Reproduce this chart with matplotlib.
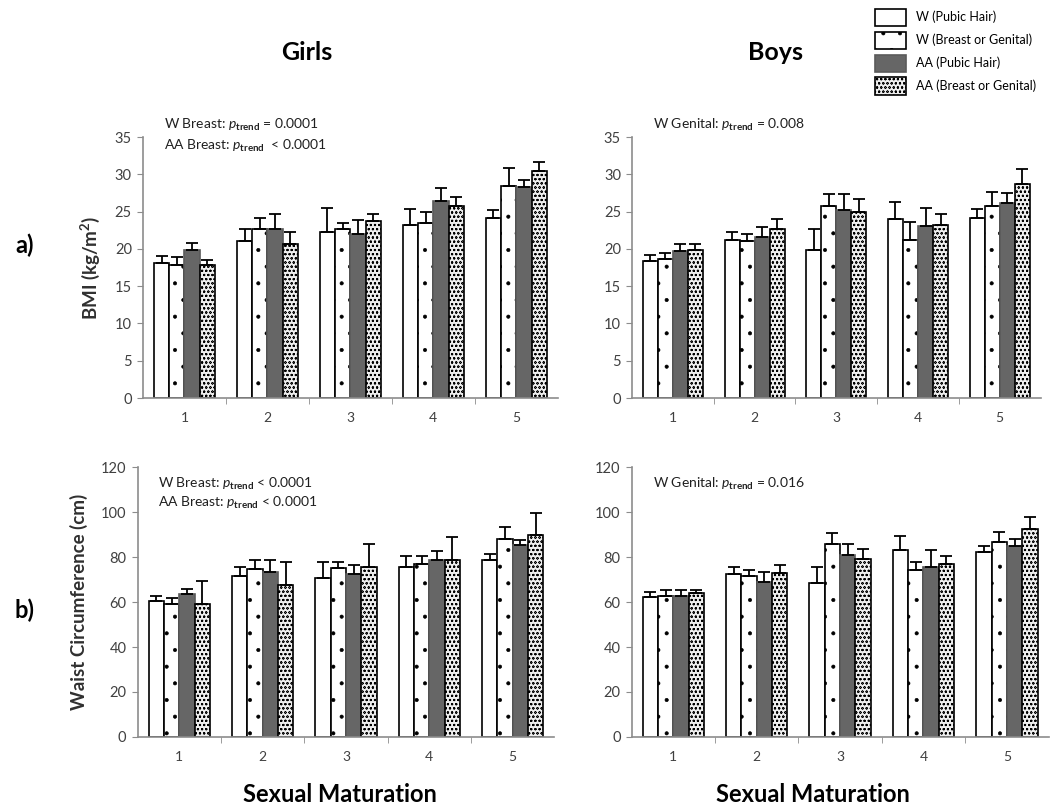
import numpy as np
import matplotlib
matplotlib.use("Agg")
import matplotlib.pyplot as plt
from matplotlib.patches import Patch

plt.rcParams["font.family"] = ["Lato", "DejaVu Sans"]
plt.rcParams["mathtext.fontset"] = "custom"
plt.rcParams["mathtext.rm"] = "Lato"
plt.rcParams["mathtext.it"] = "Lato:italic"
plt.rcParams["mathtext.bf"] = "Lato:bold"
plt.rcParams["hatch.linewidth"] = 0.45

# Data: means and upper standard errors
stages = ["1", "2", "3", "4", "5"]
series = ["W (Pubic Hair)", "W (Breast or Genital)", "AA (Pubic Hair)", "AA (Breast or Genital)"]

girls_bmi = [
    [18.05, 21.0, 22.2, 23.2, 24.2],
    [17.9, 22.6, 22.6, 23.5, 28.5],
    [19.8, 22.7, 22.0, 26.4, 28.3],
    [17.8, 20.7, 23.7, 25.8, 30.5],
]
girls_bmi_se = [
    [1.05, 1.6, 3.3, 2.1, 1.0],
    [1.0, 1.5, 0.9, 1.4, 2.3],
    [1.0, 2.0, 1.9, 1.7, 1.0],
    [0.7, 1.5, 1.0, 1.2, 1.2],
]
boys_bmi = [
    [18.4, 21.2, 19.9, 24.0, 24.2],
    [18.7, 21.0, 25.7, 21.2, 25.8],
    [19.7, 21.6, 25.2, 23.1, 26.2],
    [19.8, 22.7, 24.9, 23.2, 28.7],
]
boys_bmi_se = [
    [0.8, 1.0, 2.8, 2.3, 1.2],
    [0.7, 1.0, 1.6, 2.4, 1.8],
    [0.9, 1.4, 2.1, 2.4, 1.3],
    [0.8, 1.3, 1.8, 1.5, 2.0],
]
girls_waist = [
    [60.3, 71.7, 70.7, 75.7, 78.7],
    [59.1, 74.7, 75.1, 76.8, 88.2],
    [63.4, 73.3, 72.3, 78.7, 85.2],
    [59.1, 67.7, 75.7, 78.7, 89.6],
]
girls_waist_se = [
    [2.4, 4.0, 6.9, 4.6, 2.6],
    [2.5, 4.0, 2.5, 3.5, 5.1],
    [2.2, 5.4, 4.0, 4.0, 2.5],
    [10.2, 10.1, 10.1, 10.2, 9.9],
]
boys_waist = [
    [62.4, 72.4, 68.6, 83.2, 82.1],
    [62.8, 71.4, 85.6, 74.4, 86.6],
    [62.9, 68.9, 80.7, 75.4, 84.8],
    [64.0, 73.1, 79.0, 76.7, 92.3],
]
boys_waist_se = [
    [2.2, 3.0, 6.8, 6.0, 3.0],
    [2.5, 3.0, 5.0, 3.6, 4.7],
    [2.4, 4.3, 5.0, 7.6, 3.2],
    [1.3, 3.4, 4.7, 3.7, 5.5],
]

notes_girls_bmi = [r"W Breast: $p_{\mathbf{trend}}$ = 0.0001", r"AA Breast: $p_{\mathbf{trend}}$  < 0.0001"]
notes_boys_bmi = [r"W Genital: $p_{\mathbf{trend}}$ = 0.008"]
notes_girls_waist = [r"W Breast: $p_{\mathbf{trend}}$ < 0.0001", r"AA Breast: $p_{\mathbf{trend}}$ < 0.0001"]
notes_boys_waist = [r"W Genital: $p_{\mathbf{trend}}$ = 0.016"]

# bar styles: (facecolor, edgecolor, hatch)
styles = [
    ("white", "black", None),
    ("white", "black", "."),
    ("#666666", "#5a5a5a", None),
    ("#eeeeee", "black", "oooo"),
]

AXIS_GRAY = "#8c8c8c"
TEXT_GRAY = "#404040"

fig = plt.figure(figsize=(10.5, 8.08), dpi=100)


def draw_panel(rect, means, ses, ymax, ystep, notes, note_y, ylabel=None):
    ax = fig.add_axes(rect)
    x = np.arange(len(stages))
    w = 0.184
    for i in range(4):
        fc, ec, hatch = styles[i]
        pos = x + (i - 1.5) * w
        m = np.array(means[i])
        e = np.array(ses[i])
        ax.bar(pos, m, width=w, facecolor=fc, edgecolor=ec, hatch=hatch,
               linewidth=1.2, zorder=2)
        ax.errorbar(pos, m, yerr=[np.zeros_like(e), e], fmt="none", ecolor="black",
                    elinewidth=1.3, capsize=4.5, capthick=1.3, zorder=3)
    ax.set_xlim(-0.5, len(stages) - 0.5)
    ax.set_ylim(0, ymax)
    ax.set_yticks(np.arange(0, ymax + 0.1, ystep))
    ax.set_xticks(x)
    ax.set_xticklabels(stages)
    ax.set_xticks(np.arange(0.5, len(stages) - 0.5, 1.0), minor=True)
    ax.tick_params(axis="x", which="major", length=0, pad=10, labelsize=10, labelcolor=TEXT_GRAY)
    ax.tick_params(axis="x", which="minor", length=4, color=AXIS_GRAY, direction="out")
    ax.tick_params(axis="y", length=4, color=AXIS_GRAY, labelsize=10.5, labelcolor=TEXT_GRAY, pad=4)
    for s in ["top", "right"]:
        ax.spines[s].set_visible(False)
    for s in ["left", "bottom"]:
        ax.spines[s].set_color(AXIS_GRAY)
        ax.spines[s].set_linewidth(1.2)
    for k, note in enumerate(notes):
        ax.text(0.05, note_y[k], note, transform=ax.transAxes, fontsize=10,
                color="#202020", ha="left", va="center")
    if ylabel:
        ax.set_ylabel(ylabel, fontsize=13.5, fontweight="bold", color="#303030", labelpad=9)
    return ax


draw_panel([0.1362, 0.5074, 0.395, 0.323], girls_bmi, girls_bmi_se, 35, 5,
           notes_girls_bmi, [1.046, 0.966], ylabel="BMI (kg/m$^\\mathbf{2}$)")
draw_panel([0.602, 0.5074, 0.389, 0.323], boys_bmi, boys_bmi_se, 35, 5,
           notes_boys_bmi, [1.046])
draw_panel([0.131, 0.0879, 0.397, 0.334], girls_waist, girls_waist_se, 120, 20,
           notes_girls_waist, [0.937, 0.868], ylabel="Waist Circumference (cm)")
draw_panel([0.6016, 0.0879, 0.397, 0.334], boys_waist, boys_waist_se, 120, 20,
           notes_boys_waist, [0.937])

fig.text(307 / 1050, 1 - 52 / 808, "Girls", fontsize=18, fontweight="bold", ha="center", va="center")
fig.text(775 / 1050, 1 - 52 / 808, "Boys", fontsize=18, fontweight="bold", ha="center", va="center")
fig.text(25 / 1050, 1 - 245 / 808, "a)", fontsize=17, fontweight="bold", ha="center", va="center")
fig.text(25 / 1050, 1 - 610 / 808, "b)", fontsize=17, fontweight="bold", ha="center", va="center")
fig.text(340 / 1050, 1 - 794 / 808, "Sexual Maturation", fontsize=17, fontweight="bold",
         ha="center", va="center")
fig.text(813 / 1050, 1 - 794 / 808, "Sexual Maturation", fontsize=17, fontweight="bold",
         ha="center", va="center")

handles = [Patch(facecolor=fc, edgecolor=ec, hatch=h, linewidth=1.2) for fc, ec, h in styles]
fig.legend(handles, series, loc="upper left", bbox_to_anchor=(866 / 1050, 1 - 0 / 808),
           frameon=False, fontsize=9, handlelength=2.5, handleheight=1.75,
           labelspacing=0.45, handletextpad=0.8, borderpad=0.2)

fig.savefig("out.png", dpi=100)
